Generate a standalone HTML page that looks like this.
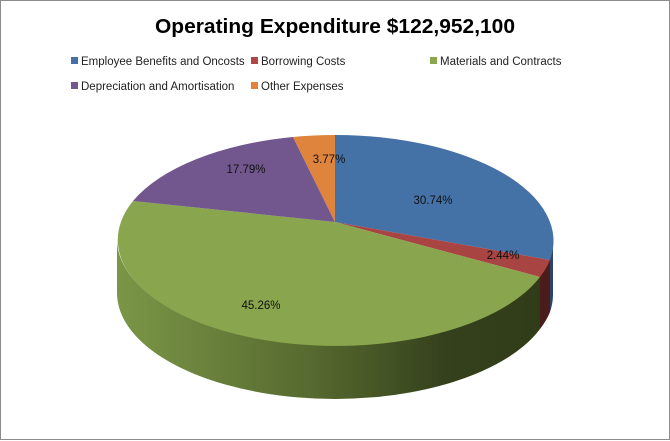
<!DOCTYPE html>
<html><head><style>
body{margin:0;background:#fff;}
svg{display:block;font-family:"Liberation Sans",Arial,sans-serif;}
</style></head><body>
<svg width="670" height="441" viewBox="0 0 670 441">
<defs>
<linearGradient id="gs" x1="117" y1="0" x2="553" y2="0" gradientUnits="userSpaceOnUse">
<stop offset="0" stop-color="#7b9647"/>
<stop offset="0.45" stop-color="#56692f"/>
<stop offset="0.75" stop-color="#35411c"/>
<stop offset="1" stop-color="#303b18"/>
</linearGradient>
</defs>
<rect x="0.5" y="0.5" width="669" height="439" fill="#fff" stroke="#8c8c8c"/>
<text x="335" y="33" text-anchor="middle" font-size="20" font-weight="bold" fill="#000" textLength="360" lengthAdjust="spacingAndGlyphs">Operating Expenditure $122,952,100</text>
<g font-size="11.5" fill="#222">
<rect x="71" y="57" width="7" height="7" fill="#4472a8"/><text x="81" y="65">Employee Benefits and Oncosts</text>
<rect x="251" y="57" width="7" height="7" fill="#b04645"/><text x="261" y="65">Borrowing Costs</text>
<rect x="430" y="57" width="7" height="7" fill="#8aa64f"/><text x="440" y="65">Materials and Contracts</text>
<rect x="71" y="82" width="7" height="7" fill="#73578f"/><text x="81" y="90">Depreciation and Amortisation</text>
<rect x="251" y="82" width="7" height="7" fill="#e0833b"/><text x="261" y="90">Other Expenses</text>
</g>
<!-- sides -->
<path d="M117,239 A218,106 0 0 0 540,275 L540,329 A218,106 0 0 1 117,293 Z" fill="url(#gs)"/>
<path d="M540,275 A218,106 0 0 0 550,258 L550,312 A218,106 0 0 1 540,329 Z" fill="#4a1d1c"/>
<path d="M550,258 A218,106 0 0 0 553,239 L553,293 A218,106 0 0 1 550,312 Z" fill="#2b4468"/>
<!-- top -->
<path d="M335,222 L335,135 A218,106 0 0 1 550,260 Z" fill="#4471a6"/>
<path d="M335,222 L550,260 A218,106 0 0 1 540,277 Z" fill="#a84442"/>
<path d="M335,222 L540,277 A218,106 0 1 1 133,201 Z" fill="#89a54e"/>
<path d="M335,222 L133,201 A218,106 0 0 1 293,137 Z" fill="#72578e"/>
<path d="M335,222 L293,137 A218,106 0 0 1 335,135 Z" fill="#df843c"/>
<g font-size="11.5" fill="#111" text-anchor="middle">
<text x="433" y="204">30.74%</text>
<text x="503" y="259">2.44%</text>
<text x="261" y="309">45.26%</text>
<text x="246" y="173">17.79%</text>
<text x="329" y="163">3.77%</text>
</g>
</svg>
</body></html>
